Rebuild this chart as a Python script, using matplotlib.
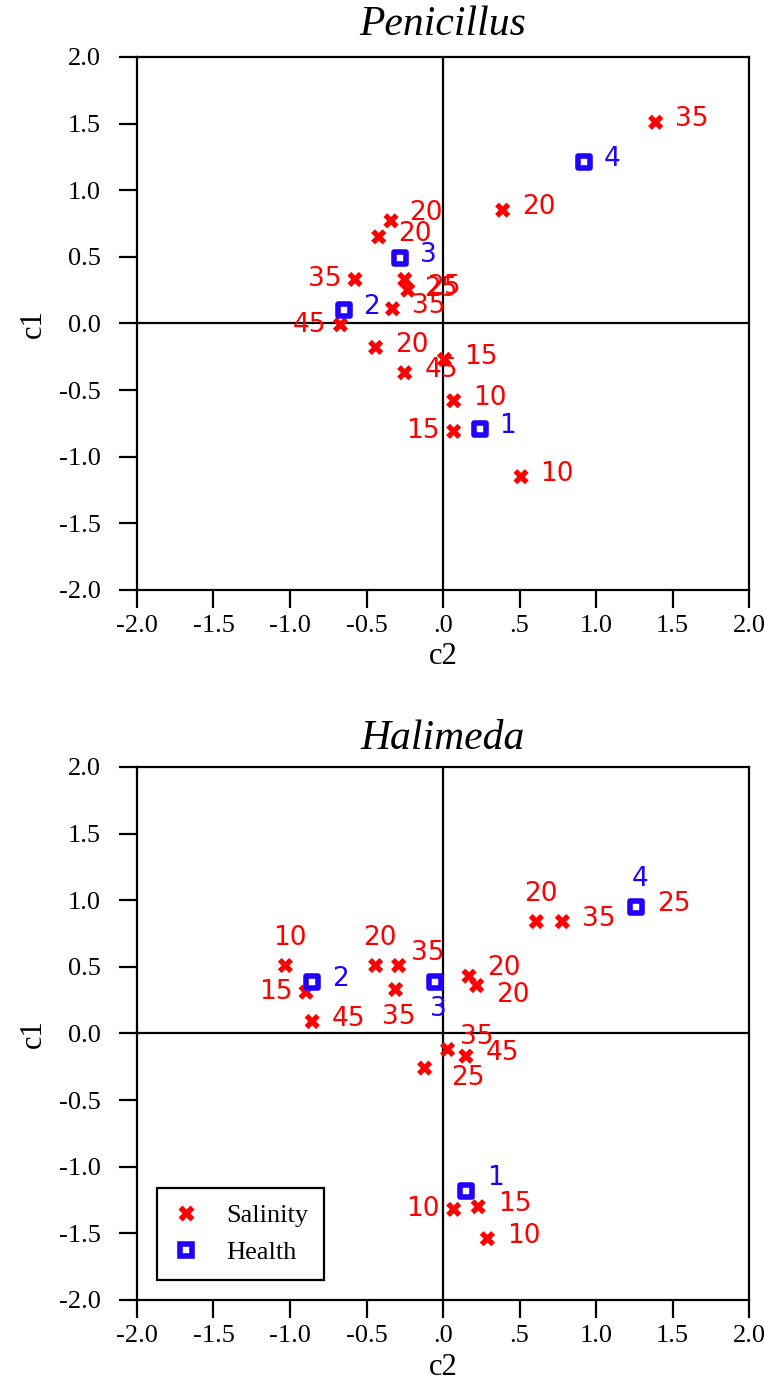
import matplotlib
matplotlib.use('Agg')
import matplotlib.pyplot as plt
from matplotlib.lines import Line2D

# Penicillus: salinity scores (c2, c1) and labels
pen_sal_c2 = [1.39, 0.39, -0.34, -0.42, -0.575, -0.25, -0.23, -0.33, -0.44, 0.01, -0.25, 0.07, 0.07, 0.51, -0.67]
pen_sal_c1 = [1.51, 0.85, 0.77, 0.65, 0.33, 0.33, 0.25, 0.11, -0.18, -0.27, -0.37, -0.58, -0.81, -1.15, -0.01]
pen_sal_lab = ['35', '20', '20', '20', '35', '25', '25', '35', '20', '15', '45', '10', '15', '10', '45']
pen_sal_pos = ['r', 'r', 'ru', 'r', 'l', 'rd', 'r', 'r', 'r', 'r', 'r', 'r', 'l', 'r', 'l']

# Penicillus: health scores
pen_hea_c2 = [0.24, -0.65, -0.28, 0.92]
pen_hea_c1 = [-0.79, 0.10, 0.49, 1.21]
pen_hea_lab = ['1', '2', '3', '4']
pen_hea_pos = ['r', 'r', 'r', 'r']

# Halimeda: salinity scores
hal_sal_c2 = [-1.03, -0.895, -0.855, -0.44, -0.29, -0.31, 0.17, 0.22, 0.61, 0.78, 1.27, 0.03, 0.15, -0.12, 0.07, 0.23, 0.29]
hal_sal_c1 = [0.51, 0.31, 0.09, 0.51, 0.51, 0.33, 0.43, 0.36, 0.84, 0.84, 0.95, -0.12, -0.17, -0.26, -1.32, -1.30, -1.54]
hal_sal_lab = ['10', '15', '45', '20', '35', '35', '20', '20', '20', '35', '25', '35', '45', '25', '10', '15', '10']
hal_sal_pos = ['a', 'l', 'r', 'a', 'ar', 'b', 'ru', 'rd', 'a', 'r', 'r', 'ar', 'r', 'br', 'l', 'r', 'r']

# Halimeda: health scores
hal_hea_c2 = [0.15, -0.855, -0.05, 1.26]
hal_hea_c1 = [-1.18, 0.39, 0.39, 0.95]
hal_hea_lab = ['1', '2', '3', '4']
hal_hea_pos = ['ar', 'r', 'b', 'a']

ticks = [-2.0, -1.5, -1.0, -0.5, 0.0, 0.5, 1.0, 1.5, 2.0]
xtick_labels = ['-2.0', '-1.5', '-1.0', '-0.5', '.0', '.5', '1.0', '1.5', '2.0']
ytick_labels = ['-2.0', '-1.5', '-1.0', '-0.5', '0.0', '0.5', '1.0', '1.5', '2.0']

# label placement: offset in points, horizontal alignment
offsets = {
    'r': ((14, 2), 'left'),
    'ru': ((13, 6), 'left'),
    'rd': ((14, -7), 'left'),
    'l': ((-10, 0), 'right'),
    'a': ((3, 20), 'center'),
    'b': ((2, -20), 'center'),
    'ar': ((21, 9), 'center'),
    'br': ((31, -7), 'center'),
}

SERIF = ['Liberation Serif', 'DejaVu Serif']
RED = '#ff0000'
BLUE = '#2200ff'


def draw_panel(ax, title, sal, hea, tpad):
    ax.axhline(0, color='black', lw=1.6, zorder=1)
    ax.axvline(0, color='black', lw=1.6, zorder=1)

    sx, sy, slab, spos = sal
    hx, hy, hlab, hpos = hea
    ax.scatter(sx, sy, marker='X', s=120, color=RED, edgecolors='none', zorder=3)
    ax.scatter(hx, hy, marker='s', s=70, facecolors='white', edgecolors=BLUE,
               linewidths=4, zorder=4)

    for x, y, t, p in zip(sx, sy, slab, spos):
        off, ha = offsets[p]
        ax.annotate(t, (x, y), xytext=off, textcoords='offset points', ha=ha,
                    va='center', color=RED, fontsize=19, family='DejaVu Sans', zorder=5)
    for x, y, t, p in zip(hx, hy, hlab, hpos):
        off, ha = offsets[p]
        ax.annotate(t, (x, y), xytext=off, textcoords='offset points', ha=ha,
                    va='center', color=BLUE, fontsize=19, family='DejaVu Sans', zorder=5)

    ax.set_xlim(-2, 2)
    ax.set_ylim(-2, 2)
    ax.set_xticks(ticks)
    ax.set_xticklabels(xtick_labels, family=SERIF, fontsize=19)
    ax.set_yticks(ticks)
    ax.set_yticklabels(ytick_labels, family=SERIF, fontsize=19)
    ax.tick_params(direction='out', length=13, width=1.6)
    ax.tick_params(axis='y', pad=13)
    ax.tick_params(axis='x', pad=5)
    for sp in ax.spines.values():
        sp.set_linewidth(1.6)
    ax.set_xlabel('c2', family=SERIF, fontsize=22, labelpad=4)
    ax.set_ylabel('c1', family=SERIF, fontsize=22, labelpad=8)
    ax.set_title(title, family=SERIF, style='italic', fontsize=30, pad=tpad)


fig = plt.figure(figsize=(7.64, 13.79), dpi=100)
ax1 = fig.add_axes([0.1793, 0.5722, 0.8011, 0.3865])
ax2 = fig.add_axes([0.1793, 0.0573, 0.8011, 0.3865])

draw_panel(ax1, 'Penicillus',
           (pen_sal_c2, pen_sal_c1, pen_sal_lab, pen_sal_pos),
           (pen_hea_c2, pen_hea_c1, pen_hea_lab, pen_hea_pos), 16)
draw_panel(ax2, 'Halimeda',
           (hal_sal_c2, hal_sal_c1, hal_sal_lab, hal_sal_pos),
           (hal_hea_c2, hal_hea_c1, hal_hea_lab, hal_hea_pos), 13)

handles = [
    Line2D([], [], marker='X', ls='none', color=RED, markeredgecolor='none', markersize=11),
    Line2D([], [], marker='s', ls='none', markerfacecolor='white', markeredgecolor=BLUE,
           markeredgewidth=4, markersize=8.5),
]
leg = ax2.legend(handles, ['Salinity', 'Health'], loc='lower left',
                 bbox_to_anchor=(0.033, 0.0375), borderaxespad=0,
                 prop={'family': SERIF, 'size': 19},
                 fancybox=False, edgecolor='black', framealpha=1,
                 borderpad=0.6, labelspacing=0.5, handlelength=1.0, handletextpad=1.0)
leg.get_frame().set_linewidth(1.6)

fig.savefig('out.png', dpi=100)
